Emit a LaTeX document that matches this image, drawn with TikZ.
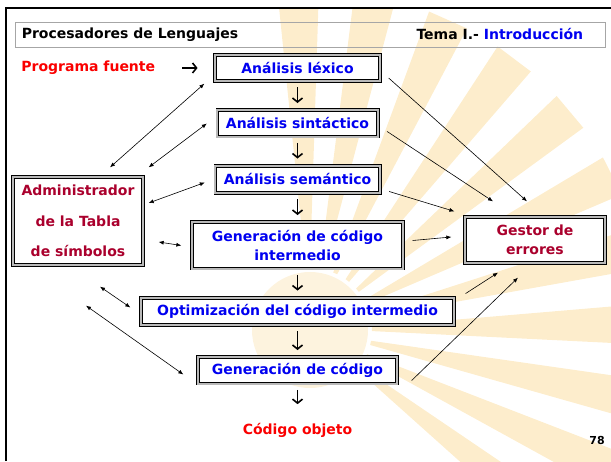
\documentclass[tikz,border=0pt]{standalone}
\usepackage{fontspec}
\setmainfont{DejaVu Sans}
\usetikzlibrary{arrows.meta,positioning}
\definecolor{azul}{RGB}{0,0,240}
\definecolor{rojo}{RGB}{250,0,0}
\definecolor{granate}{RGB}{170,0,45}
\definecolor{rayo}{RGB}{253,237,204}
\definecolor{sol}{RGB}{253,243,222}
\tikzset{
node distance=28.2pt, % separacion entre fases
texto/.style={inner sep=1pt, font=\fontsize{14}{17}\selectfont\bfseries},
fase/.style={draw=black, line width=0.9pt, double=gray!55, double distance=1.8pt, % marco doble
  fill=white, text=azul, inner sep=0pt, align=center, minimum height=26.4pt,
  font=\fontsize{14}{19.5}\selectfont\bfseries},
paso/.style={-{Straight Barb[length=4pt,width=10pt]}, line width=1.6pt, shorten <=5.8pt, shorten >=6.8pt},
doble/.style={{Latex[length=5pt,width=4pt]}-{Latex[length=5pt,width=4pt]}, line width=0.6pt},
flecha/.style={-{Latex[length=5pt,width=4pt]}, line width=0.6pt},
}
\begin{document}
\begin{tikzpicture}[x=1pt, y=1pt]
\useasboundingbox (0,0) rectangle (611,461);
% sol del fondo
\begin{scope}
\clip (6,0) rectangle (611,453);
\begin{scope}[shift={(310,131)}]
\fill[sol] (0,0) circle (58);
\foreach \a in {-38,-25,...,99}
  \fill[rayo] (\a-2:62) -- (\a-3.5:340) -- (\a+3.5:340) -- (\a+2:62) -- cycle;
\end{scope}
\end{scope}
% marco y cabecera
\draw[line width=2.5pt] (6,0) -- (6,453) -- (611,453);
\node[draw=gray!70, line width=0.8pt, minimum width=590pt, minimum height=25pt] (cab) at (310,426.5) {};
\node[texto, anchor=west] (titulo) at ([xshift=6pt]cab.west) {Procesadores de Lenguajes};
\node[texto, anchor=east] (tema) at ([xshift=-21pt]cab.east) {Tema I.- \textcolor{azul}{Introducción}};

\node[fase, minimum width=165.4pt] (lex) at (297.5,393) {Análisis léxico};
\node[fase, minimum width=160.4pt, below=of lex] (sin) {Análisis sintáctico};
\node[fase, minimum width=164.4pt, minimum height=27.4pt, below=of sin] (sem) {Análisis semántico};
\node[fase, minimum width=211.4pt, minimum height=46.4pt, below=of sem] (inter) {Generación de código\\intermedio};
\node[fase, minimum width=313.4pt, minimum height=27.4pt, below=of inter] (opt) {Optimización del código intermedio};
\node[fase, minimum width=199.4pt, below=31.2pt of opt] (gen) {Generación de código};
\node[texto, text=rojo, below=38pt of gen] (obj) {Código objeto};
\node[texto, text=rojo, left=58pt of lex] (fuente) {Programa fuente};
\node[fase, text=granate, minimum width=130.4pt, minimum height=88.4pt,
  font=\fontsize{14}{30.5}\selectfont\bfseries] (tabla) at (78,240) {Administrador\\de la Tabla\\de símbolos};
\node[fase, text=granate, minimum width=140.4pt, minimum height=46.4pt] (err) at (535,221) {Gestor de\\errores};
\node[texto, font=\fontsize{11}{13}\selectfont\bfseries] (pag) at (597,21) {78};

\draw[paso, shorten <=26pt, shorten >=16.8pt] (fuente) -- (lex);
\draw[paso] (lex) -- (sin);
\draw[paso] (sin) -- (sem);
\draw[paso] (sem) -- (inter);
\draw[paso] (inter) -- (opt);
\draw[paso] (opt) -- (gen);
\draw[paso, shorten >=18pt] (gen) -- (obj);

\draw[doble] ([shift={(32pt,9pt)}]tabla.north) -- ([shift={(-10pt,-2pt)}]lex.south west);
\draw[doble] ([shift={(5pt,9pt)}]tabla.north east) -- ([xshift=-10pt]sin.west);
\draw[doble] ([shift={(5pt,18pt)}]tabla.east) -- ([shift={(-10pt,-3pt)}]sem.west);
\draw[doble] ([shift={(15pt,-21pt)}]tabla.east) -- ([xshift=-10pt]inter.west);
\draw[doble] ([shift={(22pt,-21pt)}]tabla.south) -- ([shift={(-10pt,4pt)}]opt.west);
\draw[doble] ([shift={(8pt,-40pt)}]tabla.south) -- ([shift={(-14pt,-4pt)}]gen.west);

\draw[flecha] ([shift={(8pt,-10pt)}]lex.east) -- ([shift={(-8pt,15pt)}]err.north);
\draw[flecha] ([shift={(9pt,-8pt)}]sin.east) -- ([shift={(-42pt,15pt)}]err.north);
\draw[flecha] ([shift={(9pt,-12pt)}]sem.east) -- ([shift={(-10pt,5pt)}]err.north west);
\draw[flecha] ([shift={(9pt,5pt)}]inter.east) -- ([shift={(-13pt,3pt)}]err.west);
\draw[flecha] ([shift={(11pt,18pt)}]opt.east) -- ([shift={(-37pt,-9pt)}]err.south);
\draw[flecha] ([shift={(14pt,-10pt)}]gen.east) -- ([shift={(-17pt,-14pt)}]err.south);
\end{tikzpicture}
\end{document}
